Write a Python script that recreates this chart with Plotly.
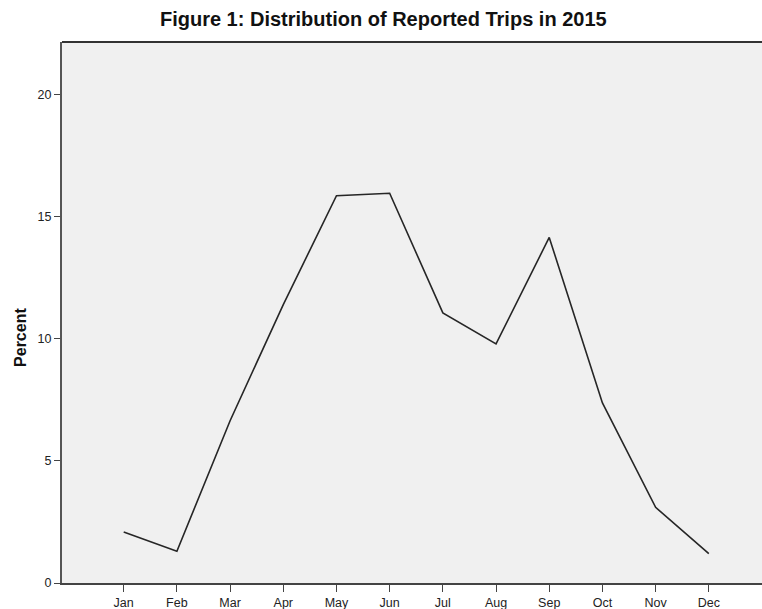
import plotly.graph_objects as go

months = ["Jan", "Feb", "Mar", "Apr", "May", "Jun", "Jul", "Aug", "Sep", "Oct", "Nov", "Dec"]
percent = [2.09, 1.30, 6.65, 11.41, 15.87, 15.97, 11.07, 9.80, 14.16, 7.38, 3.10, 1.20]
y_ticks = [0, 5, 10, 15, 20]

FONT = "Liberation Sans, Arial, sans-serif"

fig = go.Figure()
fig.add_trace(go.Scatter(
    x=list(range(len(months))), y=percent, mode="lines",
    line=dict(color="#262626", width=1.6), hoverinfo="skip", showlegend=False,
))

fig.update_layout(
    width=762, height=609, autosize=False,
    margin=dict(l=62, r=0, t=42, b=26),
    paper_bgcolor="white", plot_bgcolor="#f0f0f0",
    title=dict(text="<b>Figure 1: Distribution of Reported Trips in 2015</b>",
               x=0.503, xanchor="center", y=1 - 19/609, yanchor="middle",
               font=dict(family=FONT, size=20, color="#111")),
    xaxis=dict(range=[-1.16, 12.0], tickmode="array", tickvals=list(range(len(months))),
               ticktext=months, showgrid=False, zeroline=False,
               showline=True, linecolor="#444", linewidth=2,
               ticks="outside", ticklen=7, tickcolor="#444", tickwidth=1,
               tickfont=dict(family=FONT, size=12.5, color="#222")),
    yaxis=dict(range=[0, 22.17], tickmode="array", tickvals=y_ticks,
               showgrid=False, zeroline=False,
               showline=True, linecolor="#555", linewidth=2,
               ticks="outside", ticklen=6, tickcolor="#444", tickwidth=1,
               tickfont=dict(family=FONT, size=12.5, color="#222")),
    shapes=[dict(type="line", xref="paper", yref="paper", x0=0, x1=1, y0=1, y1=1,
                 line=dict(color="#333", width=2))],
    annotations=[dict(text="<b>Percent</b>", xref="paper", yref="paper",
                      x=0, y=0.453, xanchor="center", yanchor="middle",
                      xshift=-41, textangle=-90, showarrow=False,
                      font=dict(family=FONT, size=16, color="#111"))],
)

fig.write_html("out.html", config={"responsive": False, "displayModeBar": False},
               post_script="document.body.style.margin='0';document.body.style.overflow='hidden';")
